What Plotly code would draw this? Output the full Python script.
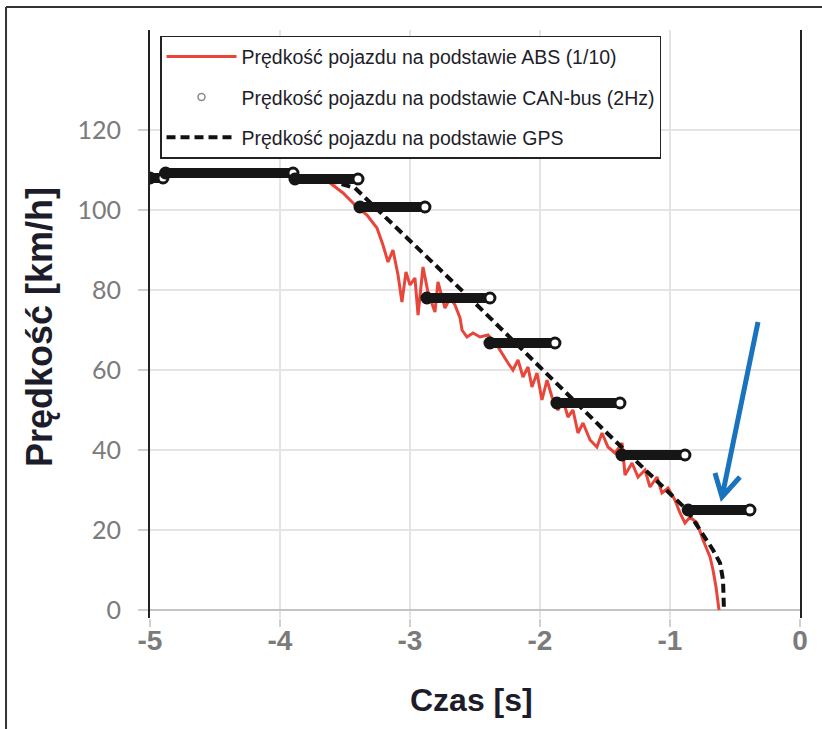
import plotly.graph_objects as go

# ---------------- data ----------------
abs_t = [-3.615, -3.515, -3.423, -3.331, -3.254, -3.208, -3.169, -3.131, -3.092, -3.062,
         -3.031, -3.000, -2.962, -2.938, -2.900, -2.862, -2.808, -2.785, -2.731, -2.692,
         -2.654, -2.615, -2.600, -2.562, -2.515, -2.462, -2.400, -2.323, -2.246, -2.208,
         -2.169, -2.131, -2.092, -2.062, -2.023, -1.985, -1.946, -1.908, -1.862, -1.823,
         -1.785, -1.746, -1.708, -1.669, -1.615, -1.562, -1.523, -1.477, -1.423, -1.369,
         -1.346, -1.292, -1.246, -1.192, -1.154, -1.100, -1.062, -1.015, -0.962, -0.923,
         -0.885, -0.846, -0.792, -0.746, -0.692, -0.669, -0.646, -0.631, -0.623]
abs_v = [106.75, 104.25, 101.25, 98.75, 95.5, 91.25, 87.0, 90.0, 83.75, 77.0,
         84.5, 81.25, 83.0, 73.75, 85.75, 79.5, 74.5, 82.0, 75.5, 78.0,
         76.25, 73.0, 70.0, 68.25, 69.25, 68.25, 68.75, 65.75, 61.75, 60.0,
         62.5, 58.25, 60.75, 55.75, 59.25, 52.5, 57.5, 53.25, 50.0, 52.5,
         48.25, 50.0, 44.25, 46.75, 42.5, 40.75, 44.25, 40.75, 39.25, 41.75,
         33.75, 36.75, 33.25, 35.0, 30.75, 33.25, 29.25, 30.5, 27.5, 24.25,
         21.75, 23.25, 21.75, 17.5, 13.25, 10.0, 5.75, 0.75, 0.0]

gps_t = [-3.846, -3.577, -3.423, -2.615, -2.485, -1.485, -0.869, -0.769, -0.669, -0.615, -0.592, -0.585]
gps_v = [107.75, 107.0, 105.5, 80.5, 76.25, 44.25, 25.0, 20.0, 15.0, 11.75, 7.5, 0.0]

# CAN-bus (2 Hz) held values: start time, end time, speed
can_start = [-5.00, -4.88, -3.885, -3.385, -2.870, -2.385, -1.870, -1.370, -0.860]
can_end   = [-4.90, -3.90, -3.400, -2.885, -2.385, -1.885, -1.385, -0.885, -0.385]
can_value = [108.0, 109.25, 107.75, 100.75, 78.0, 66.75, 51.75, 38.75, 25.0]

x_ticks = [-5, -4, -3, -2, -1, 0]
y_ticks = [0, 20, 40, 60, 80, 100, 120]

# arrow (annotation) in data coordinates
arrow_tail = (-0.323, 72.0)
arrow_tip = (-0.600, 28.25)
arrow_wing1 = (-0.654, 34.25)
arrow_wing2 = (-0.462, 33.25)

# ---------------- figure ----------------
RED = "#e8463a"
BAR = "#161616"
NARROW = "Liberation Sans Narrow, Arial Narrow, Liberation Sans, sans-serif"
LEG_FONT = dict(family=NARROW, size=19.5, color="#1e1e2a")

fig = go.Figure()

fig.add_trace(go.Scatter(
    x=abs_t, y=abs_v, mode="lines",
    line=dict(color=RED, width=3),
    name="Prędkość pojazdu na podstawie ABS (1/10)",
    legendgroup="a", legendrank=1,
))

fig.add_trace(go.Scatter(
    x=gps_t, y=gps_v, mode="lines",
    line=dict(color="#111111", width=4, dash="9px,5px"),
    name="Prędkość pojazdu na podstawie GPS",
    legendgroup="c", legendrank=3,
))

bx, by, bc = [], [], []
for s, e, v in zip(can_start, can_end, can_value):
    bx += [s, e, None]
    by += [v, v, None]
    bc += [BAR, "white", "white"]

fig.add_trace(go.Scatter(
    x=bx, y=by, mode="lines+markers",
    line=dict(color=BAR, width=10),
    marker=dict(size=10, color=bc, line=dict(color=BAR, width=3)),
    showlegend=False, hoverinfo="skip",
))

fig.add_trace(go.Scatter(
    x=[None], y=[None], mode="markers",
    marker=dict(symbol="circle-open", size=7, color="#8a8a8a", line=dict(width=1.5)),
    name="Prędkość pojazdu na podstawie CAN-bus (2Hz)",
    legendgroup="b", legendrank=2,
))

# blue arrow
fig.add_shape(
    type="path", xref="x", yref="y",
    path=(f"M {arrow_tail[0]},{arrow_tail[1]} L {arrow_tip[0]},{arrow_tip[1]} "
          f"M {arrow_wing1[0]},{arrow_wing1[1]} L {arrow_tip[0]},{arrow_tip[1]} "
          f"L {arrow_wing2[0]},{arrow_wing2[1]}"),
    line=dict(color="#1a74bd", width=5),
)

# outer picture frame (left and top)
fig.add_shape(type="line", xref="paper", yref="paper", x0=-0.2215, x1=-0.2215, y0=1.039, y1=-0.25,
              line=dict(color="#333333", width=2))
fig.add_shape(type="line", xref="paper", yref="paper", x0=-0.2215, x1=1.1, y0=1.039, y1=1.039,
              line=dict(color="#333333", width=2))

fig.update_xaxes(
    range=[-5, 0], tickvals=x_ticks, ticktext=[str(v) for v in x_ticks],
    showgrid=True, gridcolor="#e4e4e4", gridwidth=1.5,
    zeroline=False, showline=False,
    ticks="outside", ticklen=8, tickcolor="#d0d0d0", tickwidth=1.5,
    ticklabelstandoff=-11,
    tickfont=dict(family="Liberation Sans, Arial, sans-serif", size=28, color="#7b7b7b", weight="bold"),
)
fig.update_yaxes(
    range=[-2, 145], tickvals=y_ticks, ticktext=[str(v) for v in y_ticks],
    showgrid=True, gridcolor="#e4e4e4", gridwidth=1.5,
    zeroline=True, zerolinecolor="#c4c4c4", zerolinewidth=2,
    showline=True, mirror=True, linecolor="#222222", linewidth=2,
    ticks="outside", ticklen=10, tickcolor="#d0d0d0", tickwidth=1.5,
    ticklabelstandoff=12,
    tickfont=dict(family="Lato, Open Sans, sans-serif", size=25, color="#7b7b7b"),
)

fig.add_annotation(
    text="Prędkość [km/h]", xref="paper", yref="paper", x=-0.169, y=0.495,
    textangle=-90, showarrow=False, xanchor="center", yanchor="middle",
    font=dict(family=NARROW, size=36, color="#1c1c2a", weight="bold"),
)
fig.add_annotation(
    text="Czas [s]", xref="paper", yref="paper", x=0.494, y=-0.139,
    showarrow=False, xanchor="center", yanchor="middle",
    font=dict(family=NARROW, size=32, color="#1c1c2a", weight="bold"),
)

fig.update_layout(
    width=822, height=729,
    margin=dict(l=150, r=22, t=30, b=111),
    paper_bgcolor="white", plot_bgcolor="white",
    showlegend=True,
    legend=dict(
        x=0.0154, y=0.99, xanchor="left", yanchor="top",
        bgcolor="white", bordercolor="#222222", borderwidth=1.5,
        font=LEG_FONT, tracegroupgap=12, itemwidth=70,
    ),
)

fig.write_html("out.html")
